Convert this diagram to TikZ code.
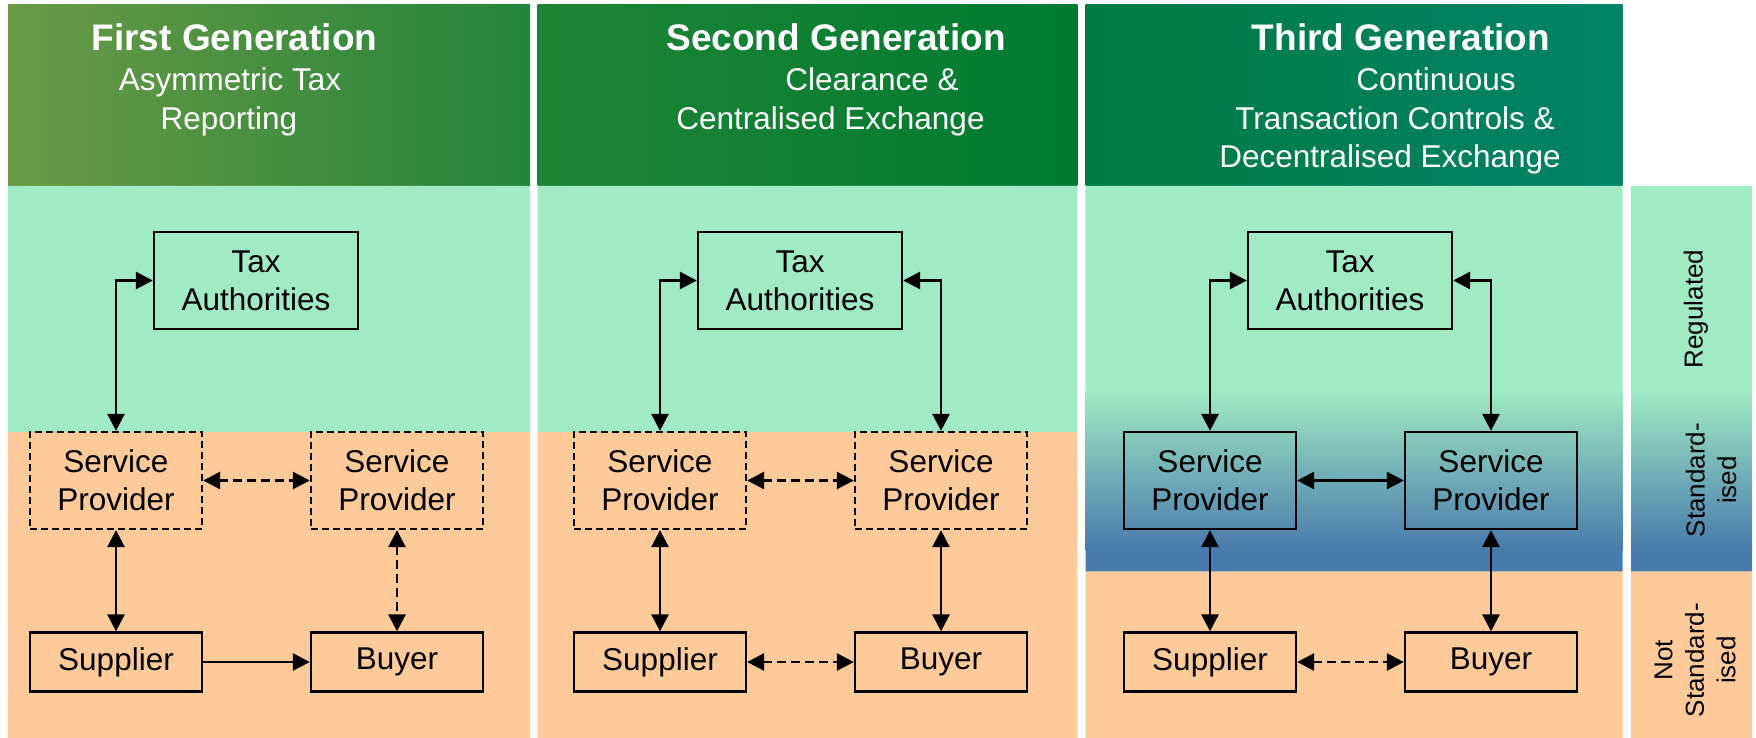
\documentclass[tikz,border=0pt]{standalone}
\usepackage{fontspec}
\setmainfont{Liberation Sans}
\usepackage{tikz}
\usetikzlibrary{arrows.meta,positioning}
\definecolor{hdrolive}{HTML}{6B9A47}
\definecolor{hdrleaf}{HTML}{23843A}
\definecolor{hdrgrass}{HTML}{1F8434}
\definecolor{hdrgreen}{HTML}{007A33}
\definecolor{hdrdeep}{HTML}{007B40}
\definecolor{hdrteal}{HTML}{008269}
\definecolor{regul}{HTML}{A0EAC4}
\definecolor{peach}{HTML}{FFCA99}
\definecolor{steel}{HTML}{487AAC}
\tikzset{
  gentitle/.style={text=white,anchor=base,font=\fontsize{37}{44}\selectfont\bfseries},
  gensub/.style={text=white,anchor=base,font=\fontsize{31.5}{38}\selectfont},
  party/.style={draw=black,line width=2.3pt,minimum width=172pt,minimum height=97pt,
    inner sep=0pt,align=center,font=\fontsize{31.5}{38.3}\selectfont},
  partyd/.style={party,dash pattern=on 7pt off 4pt},
  tierlabel/.style={rotate=90,align=center,font=\fontsize{26}{31.5}\selectfont},
  arrone/.style={-{Triangle[length=17pt,width=17pt]},line width=2.8pt},
  arrboth/.style={{Triangle[length=17pt,width=17pt]}-{Triangle[length=17pt,width=17pt]},line width=2.8pt},
  arrdash/.style={arrboth,dash pattern=on 9pt off 5pt}
}

\begin{document}
\begin{tikzpicture}[x=1pt,y=-1pt]
  \useasboundingbox (0,0) rectangle (1756,738);
  % header band
  \shade[left color=hdrolive,right color=hdrleaf] (8,5) rectangle (530,186);
  \shade[left color=hdrgrass,right color=hdrgreen] (537.7,5) rectangle (1077.3,186);
  \shade[left color=hdrdeep,right color=hdrteal] (1085.7,5) rectangle (1622.7,186);
  % regulated / not standardised bands
  \fill[regul] (8,186) rectangle (530,432) (537.7,186) rectangle (1077.3,432);
  \fill[peach] (8,432) rectangle (530,738) (537.7,432) rectangle (1077.3,738);
  \fill[regul] (1085.7,186) rectangle (1622.7,390.5) (1631,186) rectangle (1752,390.5);
  \shade[top color=regul,bottom color=steel] (1085.7,390) rectangle (1622.7,550);
  \shade[top color=regul,bottom color=steel] (1631,390) rectangle (1752,550);
  \fill[steel] (1085.7,549.5) rectangle (1622.7,571.7) (1631,549.5) rectangle (1752,571.7);
  \fill[peach] (1085.7,571.7) rectangle (1622.7,738) (1631,571.7) rectangle (1752,738);

  % headings
  \node[gentitle] (gen1) at (234.5,51) {First Generation};
  \node[gensub] (gen1a) at (230,91) {Asymmetric Tax};
  \node[gensub] (gen1b) at (229,129.3) {Reporting};
  \node[gentitle] (gen2) at (836,51) {Second Generation};
  \node[gensub] (gen2a) at (872,91) {Clearance \&};
  \node[gensub] (gen2b) at (830.5,129.3) {Centralised Exchange};
  \node[gentitle] (gen3) at (1401,51) {Third Generation};
  \node[gensub] (gen3a) at (1436,91) {Continuous};
  \node[gensub] (gen3b) at (1395,129.3) {Transaction Controls \&};
  \node[gensub] (gen3c) at (1390,167.5) {Decentralised Exchange};

  % first generation
  \node[party,minimum width=204pt] (tax1) at (256,280.5) {Tax\\Authorities};
  \node[partyd] (sp1a) at (116,480.5) {Service\\Provider};
  \node[partyd] (sp1b) at (397,480.5) {Service\\Provider};
  \node[party,minimum height=59pt] (sup1) at (116,662) {Supplier};
  \node[party,minimum height=59pt] (buy1) at (397,662) {Buyer};
  \draw[arrboth] (tax1.west) -| (sp1a.north);
  \draw[arrboth] (sp1a) -- (sup1);
  \draw[arrdash] (sp1a) -- (sp1b);
  \draw[arrdash] (sp1b) -- (buy1);
  \draw[arrone] (sup1) -- (buy1);

  % second generation
  \node[party,minimum width=204pt] (tax2) at (800,280.5) {Tax\\Authorities};
  \node[partyd] (sp2a) at (660,480.5) {Service\\Provider};
  \node[partyd] (sp2b) at (941,480.5) {Service\\Provider};
  \node[party,minimum height=59pt] (sup2) at (660,662) {Supplier};
  \node[party,minimum height=59pt] (buy2) at (941,662) {Buyer};
  \draw[arrboth] (tax2.west) -| (sp2a.north);
  \draw[arrboth] (tax2.east) -| (sp2b.north);
  \draw[arrdash] (sp2a) -- (sp2b);
  \draw[arrboth] (sp2a) -- (sup2);
  \draw[arrboth] (sp2b) -- (buy2);
  \draw[arrdash] (sup2) -- (buy2);

  % third generation
  \node[party,minimum width=204pt] (tax3) at (1350,280.5) {Tax\\Authorities};
  \node[party] (sp3a) at (1210,480.5) {Service\\Provider};
  \node[party] (sp3b) at (1491,480.5) {Service\\Provider};
  \node[party,minimum height=59pt] (sup3) at (1210,662) {Supplier};
  \node[party,minimum height=59pt] (buy3) at (1491,662) {Buyer};
  \draw[arrboth] (tax3.west) -| (sp3a.north);
  \draw[arrboth] (tax3.east) -| (sp3b.north);
  \draw[arrboth] (sp3a) -- (sp3b);
  \draw[arrboth] (sp3a) -- (sup3);
  \draw[arrboth] (sp3b) -- (buy3);
  \draw[arrdash] (sup3) -- (buy3);

  % tier labels
  \node[tierlabel] (reg) at (1696,309) {Regulated};
  \node[tierlabel] (std) at (1711,480) {Standard-\\ised};
  \node[tierlabel] (nstd) at (1695,660) {Not\\Standard-\\ised};
\end{tikzpicture}
\end{document}
